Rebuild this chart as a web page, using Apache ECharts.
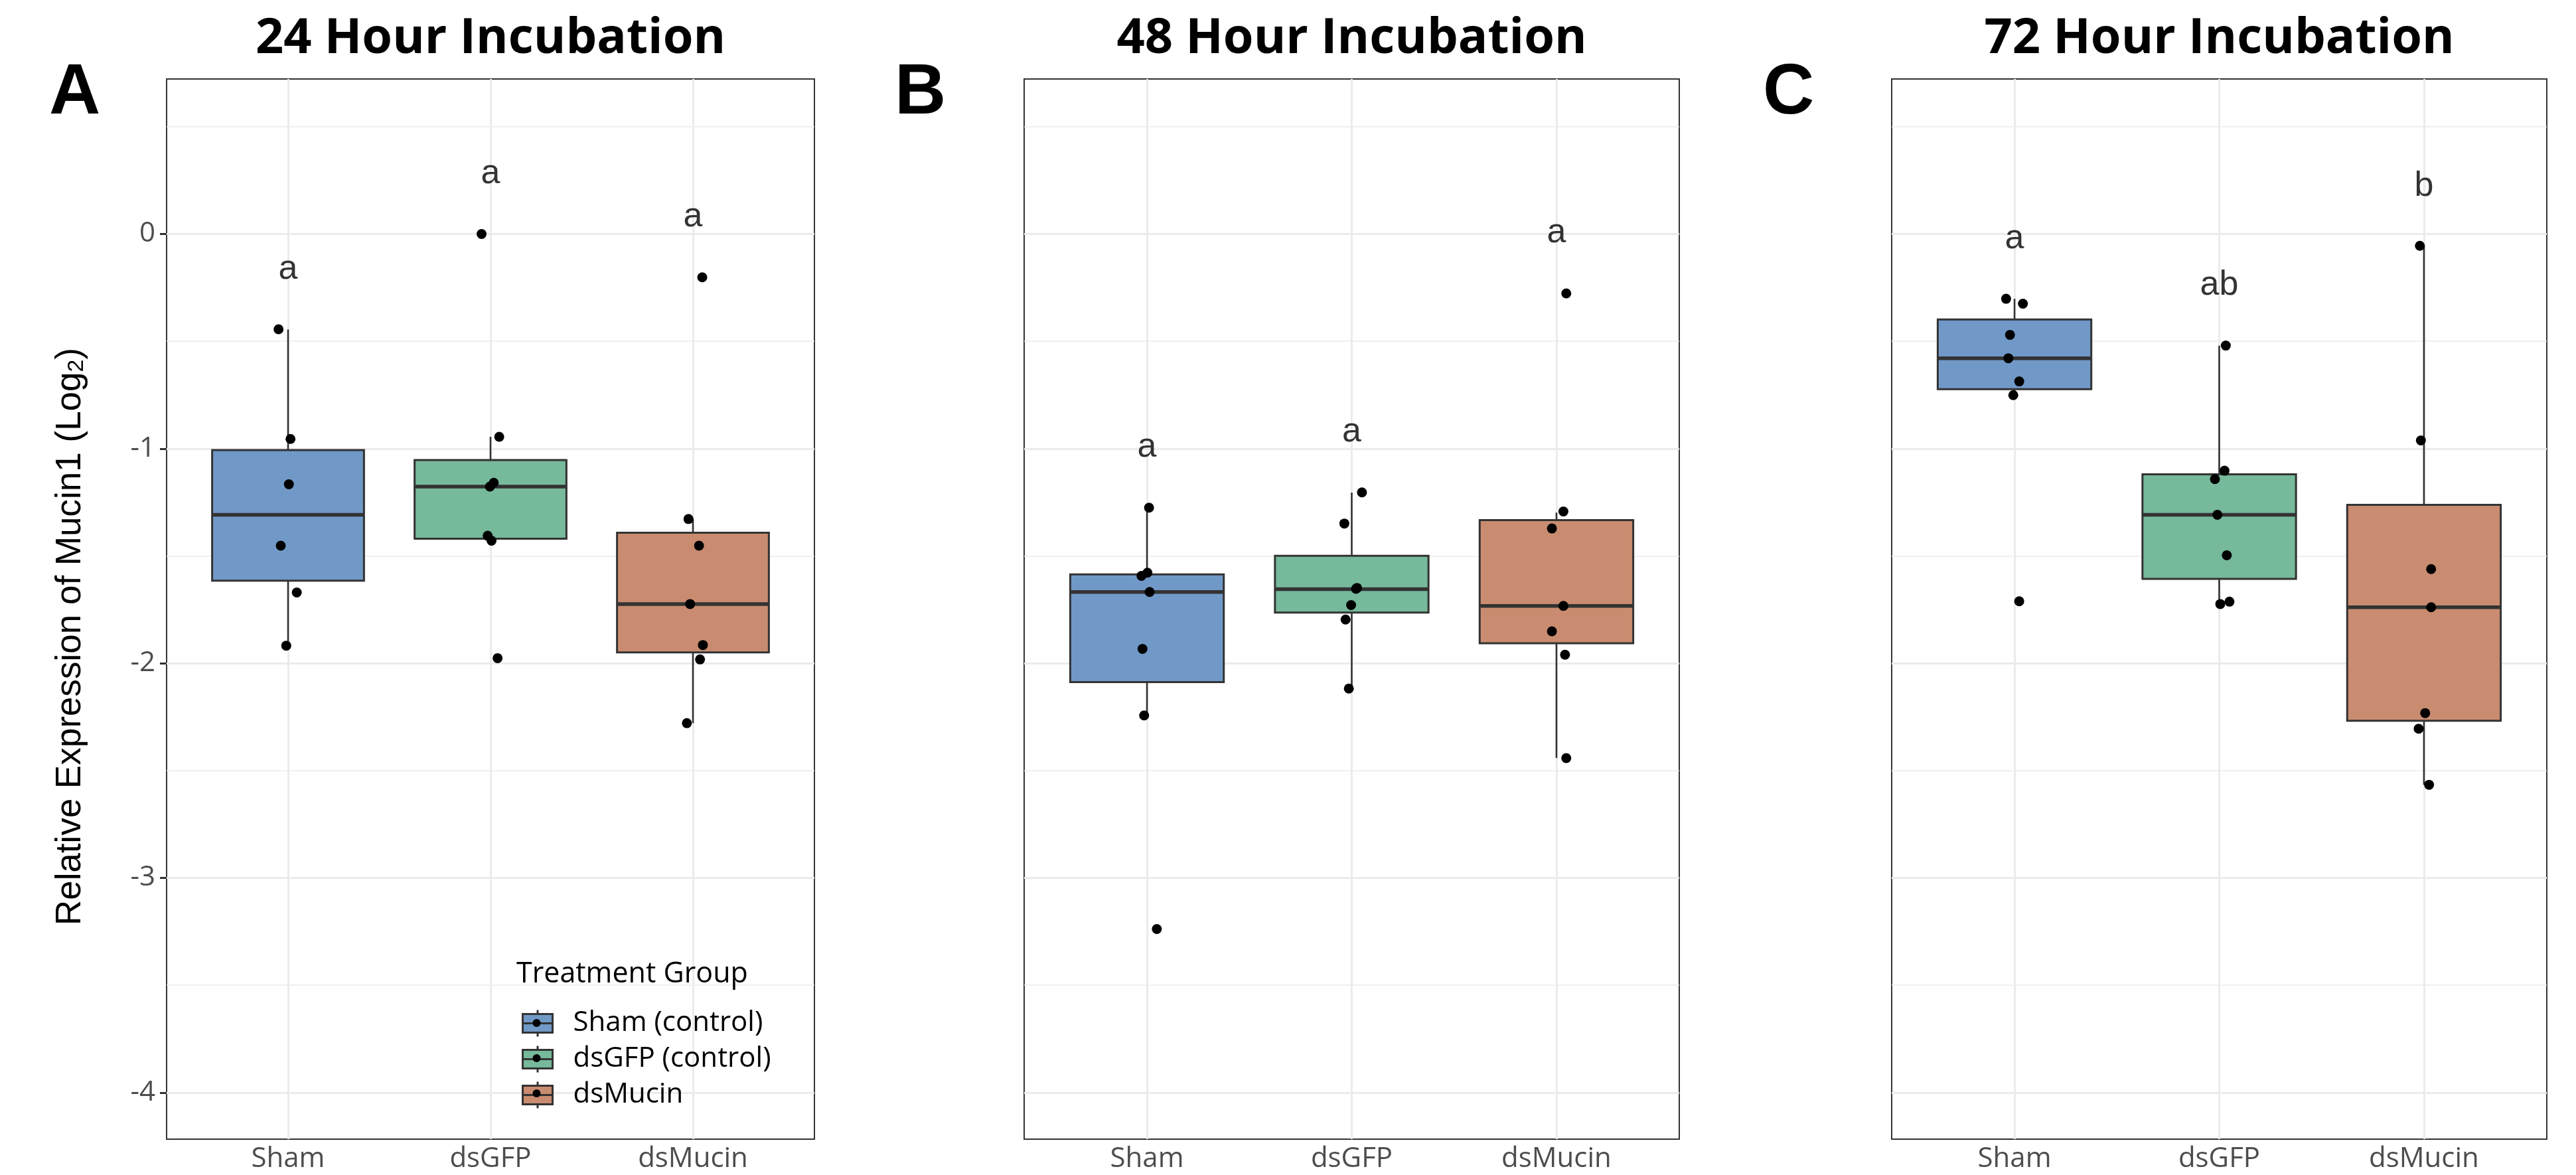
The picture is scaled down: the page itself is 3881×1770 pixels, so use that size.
<!DOCTYPE html>
<html>
<head>
<meta charset="utf-8">
<script src="https://cdn.jsdelivr.net/npm/echarts@6/dist/echarts.min.js"></script>
<style>
  html, body { margin: 0; padding: 0; background: #fff; }
  #chart { width: 3881px; height: 1770px; }
</style>
</head>
<body>
<div id="chart"></div>
<script>
const categories = ["Sham", "dsGFP", "dsMucin"];
const groupNames = ["Sham (control)", "dsGFP (control)", "dsMucin"];
const panelTitles = ["24 Hour Incubation", "48 Hour Incubation", "72 Hour Incubation"];
const panelLetters = ["A", "B", "C"];
const yTicks = [-4, -3, -2, -1, 0];
const yMinorTicks = [-3.5, -2.5, -1.5, -0.5, 0.5];
const colors = ["#7199c8", "#76b99b", "#c98c70"];

// box stats: [lower whisker, Q1, median, Q3, upper whisker] for Sham, dsGFP, dsMucin
const box24 = [
  [-1.918, -1.615, -1.308, -1.007, -0.445],
  [-1.429, -1.420, -1.177, -1.053, -0.945],
  [-2.279, -1.949, -1.724, -1.392, -1.328]
];
const box48 = [
  [-2.243, -2.088, -1.668, -1.586, -1.275],
  [-2.118, -1.764, -1.655, -1.499, -1.205],
  [-2.441, -1.907, -1.733, -1.333, -1.298]
];
const box72 = [
  [-0.751, -0.723, -0.579, -0.398, -0.302],
  [-1.724, -1.607, -1.308, -1.120, -0.520],
  [-2.566, -2.268, -1.739, -1.262, -0.055]
];

// jittered points: [x position (1 = Sham, 2 = dsGFP, 3 = dsMucin), value]
const pts24 = [
  [0.953, -0.444], [1.012, -0.955], [1.004, -1.166], [0.964, -1.452], [1.043, -1.670], [0.991, -1.918],
  [1.956, 0.000], [2.043, -0.945], [2.016, -1.159], [1.997, -1.177], [1.986, -1.406], [2.005, -1.429], [2.035, -1.976],
  [3.046, -0.202], [2.978, -1.328], [3.030, -1.452], [2.986, -1.724], [3.049, -1.915], [3.035, -1.982], [2.970, -2.279]
];
const pts48 = [
  [1.010, -1.275], [1.002, -1.578], [0.973, -1.593], [1.013, -1.668], [0.978, -1.933], [0.986, -2.243], [1.048, -3.238],
  [2.050, -1.204], [1.964, -1.349], [2.021, -1.653], [2.026, -1.649], [1.997, -1.729], [1.970, -1.796], [1.986, -2.118],
  [3.048, -0.277], [3.034, -1.293], [2.978, -1.372], [3.034, -1.733], [2.978, -1.851], [3.042, -1.960], [3.048, -2.442]
];
const pts72 = [
  [0.959, -0.302], [1.041, -0.325], [0.978, -0.470], [0.970, -0.579], [1.023, -0.687], [0.994, -0.751], [1.023, -1.711],
  [2.032, -0.520], [2.026, -1.103], [1.979, -1.142], [1.991, -1.308], [2.037, -1.497], [2.005, -1.724], [2.050, -1.713],
  [2.980, -0.055], [2.985, -0.962], [3.035, -1.561], [3.035, -1.739], [3.006, -2.232], [2.974, -2.305], [3.025, -2.566]
];

// significance letters and their heights
const letters24 = ["a", "a", "a"];
const letterY24 = [-0.163, 0.280, 0.081];
const letters48 = ["a", "a", "a"];
const letterY48 = [-0.993, -0.922, 0.006];
const letters72 = ["a", "ab", "b"];
const letterY72 = [-0.021, -0.238, 0.223];

const boxes = [box24, box48, box72];
const points = [pts24, pts48, pts72];
const letters = [letters24, letters48, letters72];
const letterYs = [letterY24, letterY48, letterY72];

const gridLeft = [251, 1543, 2850];
const gridWidth = [976, 987, 987];
const titleCenter = [739, 2036.5, 3343.5];
const letterLeft = [74, 1348, 2656];

const boxIcon = "path://M0,6L45,6L45,34L0,34Z M0,20L45,20 M22.5,0L22.5,6 M22.5,34L22.5,40";
const dotIcon = "path://M0,0L0,0 M45,40L45,40 M28.5,20A6,6,0,1,1,16.5,20A6,6,0,1,1,28.5,20Z";

function renderBox(params, api) {
  const x = api.value(0);
  const lo = api.coord([x, api.value(1)]);
  const q1 = api.coord([x, api.value(2)]);
  const med = api.coord([x, api.value(3)]);
  const q3 = api.coord([x, api.value(4)]);
  const hi = api.coord([x, api.value(5)]);
  const half = api.size([0.75, 0])[0] / 2;
  const stroke = "#333333";
  return {
    type: "group",
    children: [
      { type: "line", shape: { x1: hi[0], y1: hi[1], x2: q3[0], y2: q3[1] }, style: { stroke: stroke, lineWidth: 2.6 } },
      { type: "line", shape: { x1: q1[0], y1: q1[1], x2: lo[0], y2: lo[1] }, style: { stroke: stroke, lineWidth: 2.6 } },
      { type: "rect", shape: { x: q3[0] - half, y: q3[1], width: half * 2, height: q1[1] - q3[1] },
        style: { fill: api.visual("color"), stroke: stroke, lineWidth: 3 } },
      { type: "line", shape: { x1: med[0] - half, y1: med[1], x2: med[0] + half, y2: med[1] },
        style: { stroke: stroke, lineWidth: 5.5 } }
    ]
  };
}

const grid = [], xAxis = [], yAxis = [], series = [], title = [];

for (let p = 0; p < 3; p++) {
  grid.push({
    left: gridLeft[p], top: 119, width: gridWidth[p], height: 1597,
    show: true, borderColor: "#333333", borderWidth: 2, backgroundColor: "transparent"
  });
  xAxis.push({
    type: "value", gridIndex: p, min: 0.4, max: 3.6,
    axisLine: { show: false },
    splitLine: { show: false },
    axisTick: { show: true, customValues: [1, 2, 3], length: 10, lineStyle: { color: "#333333", width: 3 } },
    axisLabel: {
      customValues: [1, 2, 3], margin: 9,
      formatter: v => categories[Math.round(v) - 1],
      fontFamily: "Open Sans", fontSize: 42, color: "#4d4d4d"
    }
  });
  const y = {
    type: "value", gridIndex: p, min: -4.217, max: 0.722,
    axisLine: { show: false },
    splitLine: { show: false },
    axisTick: { show: p === 0, customValues: yTicks, length: 10, lineStyle: { color: "#333333", width: 3 } },
    axisLabel: {
      show: p === 0, customValues: yTicks, margin: 17,
      fontFamily: "Open Sans", fontSize: 42, color: "#4d4d4d"
    }
  };
  if (p === 0) {
    y.name = "Relative Expression of Mucin1 (Log{sub|2})";
    y.nameLocation = "middle";
    y.nameRotate = 90;
    y.nameGap = 118;
    y.nameTextStyle = {
      fontFamily: "Liberation Sans", fontSize: 53, color: "#000",
      padding: [0, 83, 0, 0],
      rich: { sub: { fontFamily: "Liberation Sans", fontSize: 34, color: "#000", verticalAlign: "bottom", lineHeight: 20 } }
    };
  }
  yAxis.push(y);

  for (let g = 0; g < 3; g++) {
    series.push({
      type: "custom", name: groupNames[g], xAxisIndex: p, yAxisIndex: p, z: 2,
      itemStyle: { color: colors[g] },
      encode: { x: 0, y: [1, 2, 3, 4, 5] },
      renderItem: renderBox,
      silent: true,
      data: [[g + 1].concat(boxes[p][g])]
    });
  }

  series.push({
    type: "scatter", name: "points", xAxisIndex: p, yAxisIndex: p, z: 3,
    symbolSize: 15, itemStyle: { color: "#000", opacity: 1 },
    silent: true,
    data: points[p],
    markLine: {
      silent: true, z: 1, symbol: ["none", "none"], animation: false,
      label: { show: false },
      lineStyle: { color: "#ebebeb", type: "solid", width: 3 },
      emphasis: { disabled: true },
      data: yTicks.map(v => ({ yAxis: v }))
        .concat(yMinorTicks.map(v => ({ yAxis: v, lineStyle: { color: "#ebebeb", type: "solid", width: 1.5 } })))
        .concat([1, 2, 3].map(v => ({ xAxis: v })))
    }
  });

  series.push({
    type: "scatter", name: "letters", xAxisIndex: p, yAxisIndex: p, z: 4,
    symbolSize: 1, itemStyle: { color: "transparent" },
    silent: true,
    label: {
      show: true, position: "inside", formatter: "{b}",
      fontFamily: "Liberation Sans", fontSize: 52, color: "#000"
    },
    data: letters[p].map((t, i) => ({ name: t, value: [i + 1, letterYs[p][i]] }))
  });

  title.push({
    text: panelTitles[p], left: titleCenter[p], top: 22, textAlign: "center", padding: 0,
    textStyle: { fontFamily: "Open Sans", fontWeight: "bold", fontSize: 74, color: "#000" }
  });
  title.push({
    text: panelLetters[p], left: letterLeft[p], top: 88, padding: 0,
    textStyle: { fontFamily: "Liberation Sans", fontWeight: "bold", fontSize: 107, color: "#000" }
  });
}

title.push({
  text: "Treatment Group", left: 778, top: 1446, padding: 0,
  textStyle: { fontFamily: "Open Sans", fontWeight: "normal", fontSize: 43, color: "#000" }
});

const legendBase = {
  orient: "vertical", left: 786, top: 1520, padding: 0,
  itemWidth: 45, itemHeight: 40, itemGap: 11, selectedMode: false
};

const chart = echarts.init(document.getElementById("chart"));
chart.setOption({
  animation: false,
  backgroundColor: "#ffffff",
  title: title,
  legend: [
    Object.assign({}, legendBase, {
      data: groupNames.map(n => ({ name: n, icon: boxIcon })),
      itemStyle: { borderColor: "#333333", borderWidth: 3 },
      textStyle: { fontFamily: "Open Sans", fontSize: 42, color: "#000", lineHeight: 40, padding: [0, 0, 0, 26] }
    }),
    Object.assign({}, legendBase, {
      data: groupNames.map(n => ({ name: n, icon: dotIcon })),
      itemStyle: { color: "#000", borderWidth: 0 },
      textStyle: { fontFamily: "Open Sans", fontSize: 42, color: "transparent", lineHeight: 40, padding: [0, 0, 0, 26] }
    })
  ],
  grid: grid,
  xAxis: xAxis,
  yAxis: yAxis,
  series: series
});

window.addEventListener("resize", () => {
  chart.resize();
});
</script>
</body>
</html>
